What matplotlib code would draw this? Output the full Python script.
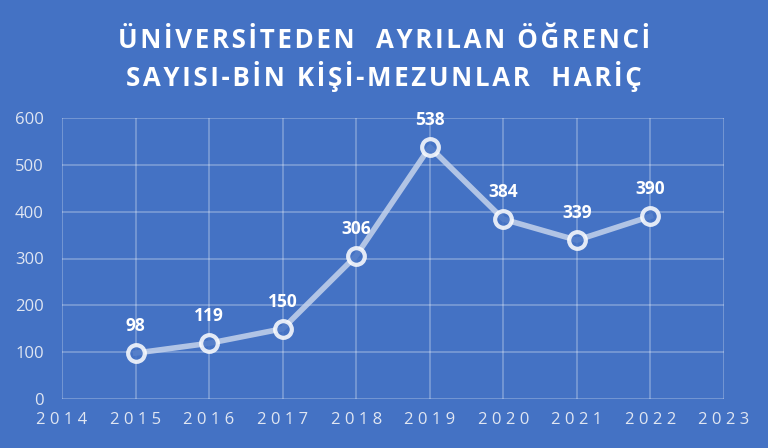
import matplotlib.pyplot as plt

years = [2015, 2016, 2017, 2018, 2019, 2020, 2021, 2022]
counts = [98, 119, 150, 306, 538, 384, 339, 390]
x_ticks = list(range(2014, 2024))
y_ticks = [0, 100, 200, 300, 400, 500, 600]
title_lines = ["ÜNİVERSİTEDEN  AYRILAN ÖĞRENCİ", "SAYISI-BİN KİŞİ-MEZUNLAR  HARİÇ"]

bg = "#4472C4"
plt.rcParams['font.family'] = ['Open Sans', 'DejaVu Sans']

fig = plt.figure(figsize=(7.68, 4.48), dpi=100, facecolor=bg)
ax = fig.add_axes([62 / 768, 1 - 399 / 448, (724 - 62) / 768, (399 - 118) / 448])
ax.set_facecolor(bg)

ax.plot(years, counts, color="#C5D3EC", lw=4, alpha=0.85, zorder=3,
        marker="o", markersize=12, markerfacecolor=bg,
        markeredgecolor="white", markeredgewidth=3)
for x, y in zip(years, counts):
    ax.annotate(str(y), (x, y), xytext=(0, 13), textcoords="offset points",
                ha="center", va="bottom", color="white", fontsize=12.5,
                fontweight="bold", zorder=4)

ax.set_xlim(2014, 2023)
ax.set_ylim(0, 600)
ax.set_xticks(x_ticks)
ax.set_xticklabels([" ".join(str(t)) for t in x_ticks])
ax.set_yticks(y_ticks)
ax.grid(True, color="white", alpha=0.3, lw=1.2)
for s in ax.spines.values():
    s.set_visible(False)
ax.tick_params(length=0, colors="#E0E6F2", labelsize=12)
ax.tick_params(axis="y", pad=13)
ax.tick_params(axis="x", pad=9)

# letter-spaced title
for i, line in enumerate(title_lines):
    spaced = "\u200a".join(line)
    fig.text(0.5, 1 - (41 + 35 * i) / 448, spaced, ha="center", va="center",
             color="white", fontsize=18.6, fontweight="bold")

fig.savefig("out.png", dpi=100, facecolor=bg)
